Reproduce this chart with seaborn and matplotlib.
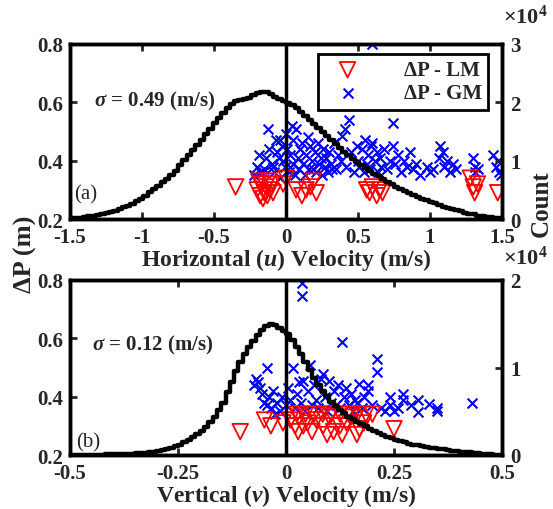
import numpy as np
import pandas as pd
import matplotlib
matplotlib.use("Agg")
import matplotlib.pyplot as plt
from matplotlib.ticker import FuncFormatter
import seaborn as sns

# ---- histogram of velocities (bin edges / counts in units of 1e4) ----
u_edges = np.linspace(-1.5, 1.5, 101)
u_counts = np.array([
    0.01, 0.02, 0.025, 0.03, 0.045, 0.055, 0.07, 0.085, 0.10, 0.12,
    0.14, 0.17, 0.20, 0.23, 0.26, 0.31, 0.35, 0.40, 0.46, 0.51,
    0.57, 0.63, 0.69, 0.75, 0.83, 0.92, 1.01, 1.09, 1.18, 1.27,
    1.36, 1.46, 1.55, 1.64, 1.73, 1.82, 1.91, 1.98, 2.02, 2.04,
    2.05, 2.07, 2.12, 2.16, 2.18, 2.17, 2.14, 2.10, 2.05, 2.03,
    1.99, 1.95, 1.90, 1.84, 1.77, 1.70, 1.63, 1.56, 1.49, 1.42,
    1.35, 1.28, 1.22, 1.15, 1.09, 1.03, 0.98, 0.93, 0.87, 0.82,
    0.78, 0.73, 0.69, 0.64, 0.60, 0.55, 0.51, 0.48, 0.44, 0.41,
    0.38, 0.35, 0.32, 0.29, 0.27, 0.24, 0.21, 0.19, 0.17, 0.15,
    0.13, 0.11, 0.09, 0.08, 0.06, 0.05, 0.04, 0.03, 0.02, 0.01]) * 1e4

v_edges = np.linspace(-0.5, 0.5, 101)
v_counts = np.array([
    0.0, 0.0, 0.0, 0.0, 0.0, 0.005, 0.005, 0.005, 0.01, 0.01,
    0.01, 0.01, 0.012, 0.014, 0.016, 0.02, 0.022, 0.026, 0.03, 0.036,
    0.045, 0.055, 0.07, 0.085, 0.10, 0.12, 0.145, 0.17, 0.205, 0.24,
    0.28, 0.32, 0.38, 0.44, 0.51, 0.60, 0.72, 0.84, 0.96, 1.06,
    1.15, 1.23, 1.30, 1.37, 1.43, 1.48, 1.50, 1.49, 1.45, 1.42,
    1.38, 1.32, 1.24, 1.15, 1.06, 0.97, 0.88, 0.80, 0.73, 0.67,
    0.61, 0.56, 0.52, 0.48, 0.44, 0.41, 0.38, 0.35, 0.33, 0.30,
    0.27, 0.25, 0.23, 0.21, 0.19, 0.175, 0.16, 0.145, 0.13, 0.12,
    0.11, 0.10, 0.09, 0.085, 0.08, 0.07, 0.065, 0.055, 0.05, 0.045,
    0.04, 0.035, 0.03, 0.025, 0.02, 0.015, 0.01, 0.008, 0.005, 0.002]) * 1e4

# ---- pressure drop scatter, panel (a) ----
u_lm_x = [-0.35, -0.20, -0.19, -0.18, -0.17, -0.16, -0.15, -0.14, -0.13, -0.12, -0.11,
          -0.10, -0.09, -0.02, 0.00, 0.07, 0.11, 0.14, 0.17, 0.19, 0.21,
          0.56, 0.58, 0.60, 0.63, 0.65, 0.67, 1.28, 1.30, 1.31, 1.33, 1.47]
u_lm_y = [0.31, 0.30, 0.33, 0.28, 0.32, 0.27, 0.29, 0.31, 0.28, 0.33, 0.30,
          0.32, 0.29, 0.32, 0.34, 0.30, 0.28, 0.30, 0.31, 0.33, 0.29,
          0.30, 0.29, 0.31, 0.28, 0.30, 0.29, 0.34, 0.31, 0.29, 0.32, 0.29]

u_gm_x = [-0.22, -0.20, -0.19, -0.18, -0.16, -0.15, -0.14, -0.125, -0.12, -0.10, -0.09,
          -0.08, -0.07, -0.06, -0.05, -0.04, -0.04, -0.03, -0.02, -0.01, 0.00, 0.01,
          0.02, 0.03, 0.03, 0.04, 0.05, 0.05, 0.06, 0.07, 0.08, 0.09, 0.10, 0.11,
          0.12, 0.13, 0.14, 0.15, 0.16, 0.17, 0.18, 0.19, 0.20, 0.21, 0.22, 0.23,
          0.24, 0.25, 0.26, 0.27, 0.28, 0.29, 0.30, 0.31, 0.32, 0.33, 0.35, 0.36,
          0.38, 0.39, 0.41, 0.42, 0.44, 0.45, 0.47, 0.49, 0.50, 0.51, 0.53, 0.54,
          0.55, 0.56, 0.57, 0.58, 0.59, 0.60, 0.60, 0.60, 0.62, 0.63, 0.64, 0.65,
          0.66, 0.68, 0.70, 0.72, 0.74, 0.74, 0.76, 0.78, 0.80, 0.82, 0.84, 0.86,
          0.88, 0.90, 0.93, 0.98, 1.00, 1.02, 1.06, 1.07, 1.09, 1.10, 1.12, 1.14,
          1.16, 1.18, 1.30, 1.31, 1.31, 1.33, 1.44, 1.46, 1.47, 1.48, 1.49]
u_gm_y = [0.35, 0.38, 0.42, 0.36, 0.36, 0.37, 0.41, 0.51, 0.44, 0.39, 0.38,
          0.36, 0.47, 0.43, 0.41, 0.47, 0.34, 0.45, 0.40, 0.38, 0.49, 0.44,
          0.36, 0.42, 0.38, 0.52, 0.39, 0.47, 0.35, 0.51, 0.41, 0.37, 0.44, 0.46,
          0.39, 0.35, 0.42, 0.48, 0.37, 0.45, 0.40, 0.37, 0.43, 0.36, 0.46, 0.39,
          0.41, 0.35, 0.44, 0.38, 0.41, 0.36, 0.43, 0.39, 0.37, 0.46, 0.37, 0.42,
          0.40, 0.485, 0.51, 0.38, 0.54, 0.43, 0.36, 0.45, 0.40, 0.38, 0.44, 0.36,
          0.47, 0.39, 0.42, 0.37, 0.45, 0.80, 0.59, 0.46, 0.40, 0.43, 0.36, 0.41,
          0.38, 0.44, 0.37, 0.40, 0.53, 0.45, 0.39, 0.42, 0.36, 0.40, 0.38, 0.43,
          0.37, 0.39, 0.35, 0.38, 0.36, 0.37, 0.41, 0.45, 0.43, 0.38, 0.40, 0.36,
          0.39, 0.37, 0.41, 0.38, 0.36, 0.37, 0.42, 0.38, 0.40, 0.36, 0.35]

# ---- pressure drop scatter, panel (b) ----
v_lm_x = [-0.106, -0.05, -0.035, -0.007, 0.01, 0.021, 0.028, 0.03, 0.04, 0.05,
          0.06, 0.07, 0.086, 0.095, 0.10, 0.11, 0.125, 0.13, 0.14, 0.15,
          0.164, 0.17, 0.18, 0.20, 0.25,
          0.025, 0.045, 0.065, 0.085, 0.105, 0.125, 0.145, 0.165, 0.185]
v_lm_y = [0.28, 0.32, 0.30, 0.31, 0.32, 0.30, 0.28, 0.33, 0.30, 0.31,
          0.28, 0.32, 0.30, 0.27, 0.33, 0.28, 0.30, 0.27, 0.31, 0.33,
          0.27, 0.29, 0.31, 0.34, 0.29,
          0.34, 0.34, 0.34, 0.34, 0.34, 0.34, 0.34, 0.34, 0.34]

v_gm_x = [-0.075, -0.07, -0.065, -0.06, -0.055, -0.05, -0.045, -0.044, -0.04, -0.035,
          -0.03, -0.025, -0.02, -0.015, -0.01, 0.00, 0.005, 0.01, 0.016, 0.02, 0.025,
          0.03, 0.035, 0.037, 0.037, 0.04, 0.045, 0.05, 0.055, 0.06, 0.065, 0.07,
          0.075, 0.08, 0.086, 0.09, 0.095, 0.10, 0.105, 0.11, 0.115, 0.12, 0.125,
          0.13, 0.135, 0.14, 0.145, 0.15, 0.155, 0.16, 0.165, 0.17, 0.175, 0.18,
          0.19, 0.19, 0.20, 0.21, 0.21, 0.22, 0.23, 0.24, 0.24, 0.25, 0.26, 0.27,
          0.27, 0.29, 0.305, 0.305, 0.33, 0.35, 0.35, 0.43]
v_gm_y = [0.44, 0.46, 0.45, 0.43, 0.41, 0.38, 0.37, 0.50, 0.40, 0.36,
          0.42, 0.34, 0.38, 0.35, 0.40, 0.37, 0.43, 0.39, 0.50, 0.36, 0.41,
          0.45, 0.38, 0.79, 0.745, 0.454, 0.35, 0.42, 0.51, 0.37, 0.44, 0.39,
          0.36, 0.46, 0.478, 0.40, 0.35, 0.454, 0.38, 0.42, 0.37, 0.44, 0.36,
          0.587, 0.40, 0.43, 0.37, 0.41, 0.35, 0.39, 0.38, 0.443, 0.36, 0.40,
          0.42, 0.44, 0.37, 0.53, 0.485, 0.36, 0.35, 0.40, 0.37, 0.35, 0.36, 0.41,
          0.39, 0.37, 0.39, 0.347, 0.375, 0.36, 0.35, 0.38]

sigma_u = 0.49
sigma_v = 0.12

sns.set_style("ticks")
plt.rcParams['font.family'] = ['Liberation Serif', 'DejaVu Serif']
plt.rcParams['font.weight'] = 'bold'
plt.rcParams['axes.labelweight'] = 'bold'
plt.rcParams['axes.unicode_minus'] = False
plt.rcParams['mathtext.fontset'] = 'custom'
plt.rcParams['mathtext.rm'] = 'Liberation Serif:bold'
plt.rcParams['mathtext.it'] = 'Liberation Serif:italic:bold'
plt.rcParams['mathtext.bf'] = 'Liberation Serif:bold'

fig = plt.figure(figsize=(5.53, 5.10), dpi=100)
W, H = 553.0, 510.0


def make_panel(rect, edges, counts, lm_x, lm_y, gm_x, gm_y,
               xlim, xticks, xticklabels, cmax, cticks, xlabel, sigma_txt,
               sigma_xy, tag, tag_xy, exp_y, legend):
    ax = fig.add_axes(rect)
    sns.scatterplot(x=lm_x, y=lm_y, marker='v', s=125, color='red', facecolor='none',
                    edgecolor='red', linewidth=1.3, label='ΔP - LM', ax=ax, zorder=3)
    sns.scatterplot(x=gm_x, y=gm_y, marker='x', s=50, color='blue',
                    linewidth=1.5, label='ΔP - GM', ax=ax, zorder=2)
    handles, labels = ax.get_legend_handles_labels()
    ax.get_legend().remove()

    ax2 = ax.twinx()
    hist = pd.DataFrame({'vel': (edges[:-1] + edges[1:]) / 2, 'count': counts})
    sns.histplot(data=hist, x='vel', weights='count', bins=list(edges), element='step',
                 fill=False, color='black', linewidth=3.2, ax=ax2)
    ax2.axvline(0, color='black', lw=2.5)

    ax.set_xlim(*xlim)
    ax.set_ylim(0.2, 0.8)
    ax.set_yticks([0.2, 0.4, 0.6, 0.8])
    ax.set_yticklabels(['0.2', '0.4', '0.6', '0.8'])
    ax.set_xticks(xticks)
    ax.set_xticklabels(xticklabels)
    ax2.set_ylim(0, cmax)
    ax2.set_yticks(cticks)
    ax2.yaxis.set_major_formatter(FuncFormatter(lambda v, p: f"{v / 1e4:g}"))
    ax2.set_ylabel('')
    ax2.set_xlim(*xlim)

    ax.tick_params(direction='in', length=5, width=2, labelsize=15, top=True,
                   right=False, pad=5)
    ax.tick_params(axis='x', pad=6)
    ax2.tick_params(direction='in', length=5, width=2, labelsize=15, pad=6)
    for a in (ax, ax2):
        for sp in a.spines.values():
            sp.set_linewidth(2.5)
            sp.set_color('black')
            sp.set_visible(True)

    ax.set_xlabel(xlabel, fontsize=17, labelpad=-1)
    ax.set_ylabel('')
    ax2.text(sigma_xy[0], sigma_xy[1], sigma_txt, transform=ax.transData,
             fontsize=15, ha='left', va='center')
    ax2.text(tag_xy[0], tag_xy[1], tag, transform=ax.transData, fontsize=15,
             fontweight='normal', ha='left', va='center')
    fig.text(503 / W, 1 - exp_y / H, r'$\times$10$^{\mathbf{4}}$', fontsize=16,
             ha='left', va='bottom')
    if legend:
        leg = ax2.legend(handles, labels, loc='upper right', bbox_to_anchor=(0.968, 0.943),
                         borderaxespad=0, fontsize=15, frameon=True, fancybox=False,
                         edgecolor='black', framealpha=1, handletextpad=1.6,
                         borderpad=0.3, labelspacing=0.15, handlelength=2.2)
        leg.get_frame().set_linewidth(2)
        leg.set_zorder(10)
    return ax, ax2


left = 70 / W
width = 432 / W
height = 175 / H

make_panel([left, 1 - 220 / H, width, height], u_edges, u_counts,
           u_lm_x, u_lm_y, u_gm_x, u_gm_y, (-1.5, 1.5),
           [-1.5, -1, -0.5, 0, 0.5, 1, 1.5], ['-1.5', '-1', '-0.5', '0', '0.5', '1', '1.5'],
           3e4, [0, 1e4, 2e4, 3e4], r'Horizontal ($u$) Velocity (m/s)',
           r'$\sigma$ = %.2f (m/s)' % sigma_u, (-1.33, 0.605), '(a)', (-1.47, 0.285),
           29, True)

make_panel([left, 1 - 456 / H, width, height], v_edges, v_counts,
           v_lm_x, v_lm_y, v_gm_x, v_gm_y, (-0.5, 0.5),
           [-0.5, -0.25, 0, 0.25, 0.5], ['-0.5', '-0.25', '0', '0.25', '0.5'],
           2e4, [0, 1e4, 2e4], r'Vertical ($v$) Velocity (m/s)',
           r'$\sigma$ = %.2f (m/s)' % sigma_v, (-0.45, 0.58), '(b)', (-0.485, 0.245),
           270, False)

fig.text(25 / W, 1 - 254 / H, 'ΔP (m)', rotation=90, fontsize=19, ha='center', va='center')
fig.text(541 / W, 1 - 204 / H, 'Count', rotation=90, fontsize=18, ha='center', va='center')

fig.savefig('out.png', dpi=100)
